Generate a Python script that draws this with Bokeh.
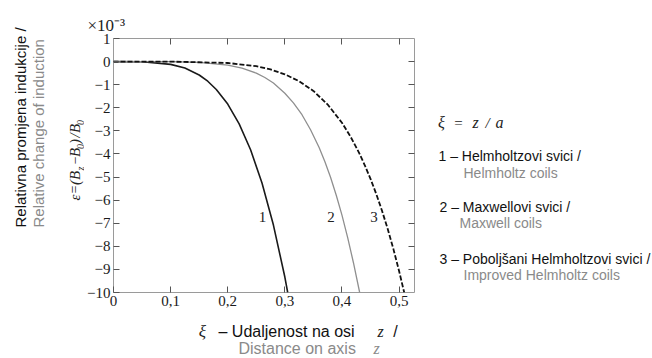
import math
from bokeh.plotting import figure
from bokeh.models import Label, LinearAxis, FixedTicker, CustomJSTickFormatter, Range1d
from bokeh.layouts import column, row
from bokeh.embed import file_html
from bokeh.resources import INLINE

# ---- data (epsilon in units of 1e-3) ----
xi_helmholtz = [0, 0.05, 0.1, 0.125, 0.15, 0.165, 0.18, 0.2, 0.22, 0.24, 0.26, 0.28, 0.3, 0.305]
eps_helmholtz = [0, -0.01, -0.12, -0.28, -0.58, -0.85, -1.21, -1.84, -2.70, -3.82, -5.26, -7.08, -9.33, -10.0]

xi_maxwell = [0, 0.1, 0.15, 0.2, 0.225, 0.25, 0.265, 0.28, 0.3, 0.315, 0.33, 0.345, 0.36, 0.37, 0.38, 0.39, 0.4, 0.41, 0.42, 0.431]
eps_maxwell = [0, 0.0, -0.03, -0.15, -0.28, -0.50, -0.69, -0.93, -1.37, -1.79, -2.30, -2.95, -3.72, -4.33, -5.01, -5.79, -6.65, -7.62, -8.70, -10.0]

xi_improved = [0, 0.1, 0.2, 0.25, 0.275, 0.3, 0.325, 0.35, 0.375, 0.4, 0.415, 0.43, 0.44, 0.45, 0.46, 0.47, 0.48, 0.49, 0.5, 0.509]
eps_improved = [0, 0.0, -0.06, -0.20, -0.34, -0.55, -0.85, -1.27, -1.86, -2.65, -3.25, -3.95, -4.49, -5.08, -5.73, -6.45, -7.24, -8.11, -9.07, -10.0]

x_ticks = [0, 0.1, 0.2, 0.3, 0.4, 0.5]
y_ticks = [-10, -9, -8, -7, -6, -5, -4, -3, -2, -1, 0, 1]

curve_numbers = ["1", "2", "3"]
curve_label_xi = [0.261, 0.381, 0.456]
curve_label_eps = [-6.75, -6.75, -6.75]

# ---- page layout (pixels) ----
PAGE_W, PAGE_H = 652, 358
LEFT_W = 84            # panel with the rotated y title
RIGHT_X = 425          # legend panel starts here
ROW_H = 314            # height of the top row
FL, FT, FR, FB = 111, 38, 414, 292   # plot frame on the page
X0, X1, Y0, Y1 = 0.0, 0.527, -10.0, 1.0

SERIF = "Liberation Serif"
SANS = "Liberation Sans"
TICK = "#555555"
DARK = "#111111"
GRAY = "#8a8a8a"

main_w = RIGHT_X - LEFT_W
p = figure(width=main_w, height=ROW_H, output_backend="svg", toolbar_location=None,
           x_range=Range1d(X0, X1), y_range=Range1d(Y0, Y1),
           min_border_left=FL - LEFT_W, min_border_top=FT,
           min_border_right=RIGHT_X - FR, min_border_bottom=ROW_H - FB)
p.grid.visible = False
p.outline_line_color = "#9a9a9a"
p.outline_line_width = 1
p.border_fill_color = "white"

p.title.text = "\u00d710\u207b\u00b3"
p.title.align = "left"
p.title.offset = 85 - FL
p.title.text_font = SERIF
p.title.text_font_size = "17px"
p.title.text_font_style = "normal"
p.title.text_color = "#222222"
p.title.standoff = 7

for ax in (p.xaxis[0], p.yaxis[0]):
    ax.axis_line_color = None
    ax.major_tick_in = 6
    ax.major_tick_out = 0
    ax.major_tick_line_color = TICK
    ax.minor_tick_line_color = None
    ax.major_label_text_font = SERIF
    ax.major_label_text_font_size = "15px"
    ax.major_label_text_color = "#1a1a1a"

p.xaxis[0].ticker = FixedTicker(ticks=x_ticks)
p.xaxis[0].formatter = CustomJSTickFormatter(code="return tick == 0 ? '0' : tick.toFixed(1).replace('.', ',');")
p.xaxis[0].major_label_standoff = 3
p.yaxis[0].ticker = FixedTicker(ticks=y_ticks)
p.yaxis[0].formatter = CustomJSTickFormatter(code="return tick < 0 ? '\u2212' + Math.abs(tick) : String(tick);")
p.yaxis[0].major_label_standoff = 3

top = LinearAxis(ticker=FixedTicker(ticks=x_ticks[1:]), axis_line_color=None,
                 major_tick_in=6, major_tick_out=0, major_tick_line_color=TICK,
                 minor_tick_line_color=None, major_label_text_alpha=0,
                 major_label_text_font_size="1px", major_label_standoff=0)
p.add_layout(top, "above")
right = LinearAxis(ticker=FixedTicker(ticks=y_ticks[1:-1]), axis_line_color=None,
                   major_tick_in=6, major_tick_out=0, major_tick_line_color=TICK,
                   minor_tick_line_color=None, major_label_text_alpha=0,
                   major_label_text_font_size="1px", major_label_standoff=0)
p.add_layout(right, "right")

# ---- curves ----
p.line(xi_helmholtz, eps_helmholtz, line_color="#1a1a1a", line_width=1.6)
p.line(xi_maxwell, eps_maxwell, line_color="#8f8f8f", line_width=1.3)
p.line(xi_improved, eps_improved, line_color="#111111", line_width=1.8, line_dash="5 2")

for t, xv, yv in zip(curve_numbers, curve_label_xi, curve_label_eps):
    p.add_layout(Label(x=xv, y=yv, text=t, text_font=SERIF, text_font_size="15px",
                       text_color="#222222", text_align="center", text_baseline="middle"))


# ---- text panels ----
def panel(w, h):
    f = figure(width=w, height=h, output_backend="svg", toolbar_location=None,
               x_range=Range1d(0, w), y_range=Range1d(0, h),
               x_axis_type=None, y_axis_type=None, min_border=0)
    f.outline_line_color = None
    f.border_fill_color = "white"
    f.background_fill_color = "white"
    return f


def put(f, ox, oy, text, X, Y, size, color=DARK, font=SANS, style="normal", align="left", angle=0.0):
    # X, Y are page pixels; (ox, oy) is the panel's top-left corner on the page
    f.add_layout(Label(x=X - ox, y=f.height - (Y - oy), text=text,
                       text_font=font, text_font_size=f"{size}px", text_color=color,
                       text_font_style=style, text_align=align, text_baseline="middle",
                       angle=angle))


left = panel(LEFT_W, ROW_H)
put(left, 0, 0, "Relativna promjena indukcije /", 20, 227, 15, angle=math.pi / 2)
put(left, 0, 0, "Relative change of induction", 38, 227, 15, color=GRAY, angle=math.pi / 2)
formula = [("\u03b5", 74, 197, 15), ("=", 74, 189, 14), ("(", 74, 182, 15), ("B", 74, 175, 15),
           ("z", 79.5, 168, 10), ("\u2212", 74, 160, 14), ("B", 74, 152, 15), ("0", 79.5, 146, 10),
           (")", 74, 141, 15), ("/", 74, 135, 15), ("B", 74, 128, 15), ("0", 79.5, 122, 10)]
for t, X, Y, s in formula:
    put(left, 0, 0, t, X, Y, s, color="#222222", font=SERIF, style="italic", align="center",
        angle=math.pi / 2)

legend = panel(PAGE_W - RIGHT_X, ROW_H)
put(legend, RIGHT_X, 0, "\u03be", 441, 122, 16, color="#222222", font=SERIF, style="italic", align="center")
put(legend, RIGHT_X, 0, "=", 458, 122, 15, color="#222222", font=SERIF, align="center")
put(legend, RIGHT_X, 0, "z", 475, 122, 16, color="#222222", font=SERIF, style="italic", align="center")
put(legend, RIGHT_X, 0, "/", 487, 122, 15, color="#222222", font=SERIF, style="italic", align="center")
put(legend, RIGHT_X, 0, "a", 499, 122, 16, color="#222222", font=SERIF, style="italic", align="center")
put(legend, RIGHT_X, 0, "1 \u2013 Helmholtzovi svici  /", 438, 155, 14)
put(legend, RIGHT_X, 0, "Helmholtz coils", 463, 172, 14, color=GRAY)
put(legend, RIGHT_X, 0, "2 \u2013 Maxwellovi svici /", 439, 206, 14)
put(legend, RIGHT_X, 0, "Maxwell coils", 459, 222, 14, color=GRAY)
put(legend, RIGHT_X, 0, "3 \u2013 Poboljšani Helmholtzovi svici /", 439, 258, 14)
put(legend, RIGHT_X, 0, "Improved Helmholtz coils", 463, 274, 14, color=GRAY)

bottom = panel(PAGE_W, PAGE_H - ROW_H)
put(bottom, 0, ROW_H, "\u03be", 202, 331, 17, color="#222222", font=SERIF, style="italic", align="center")
put(bottom, 0, ROW_H, "\u2013 Udaljenost na osi", 218, 331, 16)
put(bottom, 0, ROW_H, "z", 380, 331, 16, color="#222222", font=SERIF, style="italic", align="center")
put(bottom, 0, ROW_H, "/", 395, 331, 16, align="center")
put(bottom, 0, ROW_H, "Distance on axis", 238, 348, 16, color=GRAY)
put(bottom, 0, ROW_H, "z", 376, 348, 16, color=GRAY, font=SERIF, style="italic", align="center")

# wrap the text panels in columns so their frames are not aligned with the plot frame
layout = column(row(column(left, spacing=0), p, column(legend, spacing=0), spacing=0),
                bottom, spacing=0)
open("out.html", "w").write(file_html(layout, INLINE))
